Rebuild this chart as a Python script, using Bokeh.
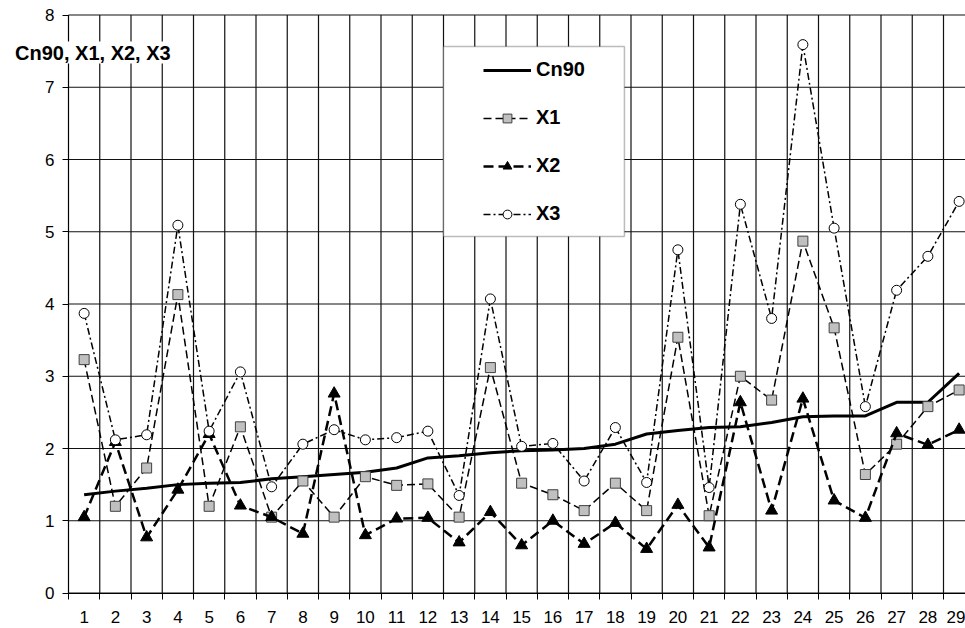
from bokeh.plotting import figure
from bokeh.models import Range1d, FixedTicker, Legend, LegendItem, Label, BoxAnnotation
from bokeh.embed import file_html
from bokeh.resources import INLINE

# Sample numbers along the x axis
samples = list(range(1, 30))

# Series values per sample
cn90 = [1.36, 1.41, 1.45, 1.50, 1.52, 1.53, 1.58, 1.61, 1.64, 1.67,
        1.73, 1.87, 1.90, 1.94, 1.97, 1.98, 2.00, 2.06, 2.20, 2.25,
        2.29, 2.30, 2.36, 2.44, 2.45, 2.45, 2.64, 2.64, 3.04]
x1 = [3.23, 1.20, 1.73, 4.13, 1.20, 2.30, 1.05, 1.55, 1.05, 1.61,
      1.49, 1.51, 1.05, 3.12, 1.52, 1.36, 1.14, 1.52, 1.14, 3.54,
      1.07, 3.00, 2.67, 4.87, 3.67, 1.64, 2.06, 2.58, 2.81]
x2 = [1.05, 2.09, 0.77, 1.43, 2.20, 1.21, 1.05, 0.82, 2.76, 0.80,
      1.03, 1.04, 0.70, 1.12, 0.66, 1.00, 0.68, 0.97, 0.61, 1.22,
      0.63, 2.64, 1.14, 2.69, 1.28, 1.04, 2.21, 2.05, 2.26]
x3 = [3.87, 2.12, 2.19, 5.09, 2.24, 3.06, 1.47, 2.06, 2.26, 2.12,
      2.15, 2.24, 1.35, 4.07, 2.03, 2.07, 1.55, 2.29, 1.53, 4.75,
      1.46, 5.38, 3.80, 7.59, 5.05, 2.58, 4.19, 4.66, 5.42]

y_ticks = [0, 1, 2, 3, 4, 5, 6, 7, 8]
series_names = ["Cn90", "X1", "X2", "X3"]
axis_title = "Cn90, X1, X2, X3"

FONT = "Liberation Sans"

# The frame fills the whole canvas; both axes are pinned to the plot-area
# corner.  One category is 31.25 px wide, one value unit is 72.25 px tall.
PX_X, PX_Y = 31.25, 72.25
x_start = 0.5 - 68 / PX_X
x_end = x_start + 965 / PX_X
y_start = -(628 - 592.5) / PX_Y
y_end = y_start + 628 / PX_Y

p = figure(width=965, height=628, output_backend="svg", toolbar_location=None,
           x_range=Range1d(x_start, x_end), y_range=Range1d(y_start, y_end),
           min_border=0, background_fill_color="white",
           border_fill_color="white")
p.outline_line_color = None

# Category boundaries carry the tick marks and vertical grid lines
bounds = [s - 0.5 for s in samples] + [samples[-1] + 0.5]

p.xaxis.fixed_location = y_ticks[0]
p.xaxis.bounds = (bounds[0], bounds[-1])
p.xaxis.ticker = FixedTicker(ticks=samples, minor_ticks=bounds)
p.xaxis.major_tick_out = 0
p.xaxis.major_tick_in = 0
p.xaxis.minor_tick_out = 6
p.xaxis.minor_tick_in = 0
p.xaxis.minor_tick_line_color = "black"
p.xaxis.major_label_standoff = 12

p.yaxis.fixed_location = bounds[0]
p.yaxis.bounds = (y_ticks[0], y_ticks[-1])
p.yaxis.ticker = FixedTicker(ticks=y_ticks, minor_ticks=[])
p.yaxis.major_tick_out = 6
p.yaxis.major_tick_in = 0
p.yaxis.major_label_standoff = 8

for ax in (p.xaxis, p.yaxis):
    ax.axis_line_color = "black"
    ax.axis_line_width = 1
    ax.major_tick_line_color = "black"
    ax.major_label_text_font = FONT
    ax.major_label_text_font_size = "17px"
    ax.major_label_text_color = "black"

p.xgrid.visible = False
p.ygrid.visible = False

# Grid lines limited to the plot area
grid_color = "#111111"
p.segment(x0=bounds, x1=bounds, y0=y_ticks[0], y1=y_ticks[-1],
          line_color=grid_color, line_width=1.2, level="underlay")
p.segment(x0=bounds[0], x1=bounds[-1], y0=y_ticks, y1=y_ticks,
          line_color=grid_color, line_width=1.2, level="underlay")

# Series
r_cn = p.line(samples, cn90, line_color="black", line_width=3)

r_x1l = p.line(samples, x1, line_color="black", line_width=1.5, line_dash="8 4")
r_x1m = p.scatter(samples, x1, marker="square", size=10, fill_color="#c0c0c0",
                  line_color="#404040", line_width=1)

r_x2l = p.line(samples, x2, line_color="black", line_width=2.5, line_dash="10 5")
r_x2m = p.scatter(samples, x2, marker="triangle", size=12, fill_color="black",
                  line_color="black")

r_x3l = p.line(samples, x3, line_color="black", line_width=1.5, line_dash="7 3 2 3")
r_x3m = p.scatter(samples, x3, marker="circle", size=10, fill_color="white",
                  line_color="black", line_width=1)

# Legend frame
legend_box = BoxAnnotation(left=12.5, right=18.29, top=7.564, bottom=4.934,
                           fill_color="white", fill_alpha=1.0,
                           line_color="#222222", line_width=1.5)
p.add_layout(legend_box)

legend = Legend(items=[
    LegendItem(label=series_names[0], renderers=[r_cn]),
    LegendItem(label=series_names[1], renderers=[r_x1l, r_x1m]),
    LegendItem(label=series_names[2], renderers=[r_x2l, r_x2m]),
    LegendItem(label=series_names[3], renderers=[r_x3l, r_x3m]),
], location=(483, 403), padding=0, margin=0, spacing=25,
    glyph_width=48, glyph_height=22, label_height=22, label_standoff=5,
    label_text_font=FONT, label_text_font_size="20px",
    label_text_font_style="bold", label_text_color="black",
    background_fill_alpha=0, border_line_alpha=0)
p.add_layout(legend)

# Value axis title
title = Label(x=1.28, y=7.48, text=axis_title, text_align="center",
              text_baseline="middle", text_font=FONT,
              text_font_size="20px", text_font_style="bold",
              text_color="black", background_fill_color="white")
p.add_layout(title)

open("out.html", "w").write(file_html(p, INLINE))
